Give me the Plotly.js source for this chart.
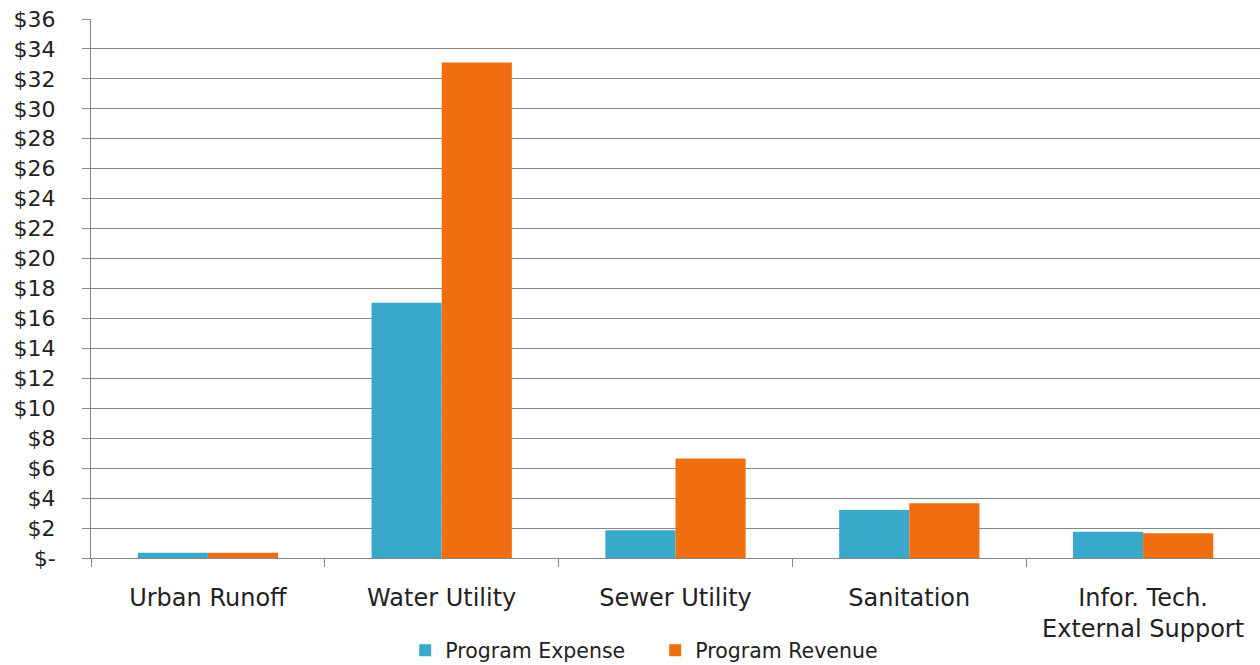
<!DOCTYPE html>
<html>
<head>
<meta charset="utf-8">
<script src="https://cdn.plot.ly/plotly-3.0.1.min.js"></script>
<style>html,body{margin:0;padding:0;background:#fff;}#chart{width:1260px;height:665px;}</style>
</head>
<body>
<div id="chart"></div>
<script>
const categories = ["Urban Runoff", "Water Utility", "Sewer Utility", "Sanitation", "Infor. Tech.<br>External Support"];
const programExpense = [0.35, 17.05, 1.85, 3.2, 1.75];
const programRevenue = [0.35, 33.1, 6.65, 3.65, 1.65];
const yTickVals = [0, 2, 4, 6, 8, 10, 12, 14, 16, 18, 20, 22, 24, 26, 28, 30, 32, 34, 36];
const yTickText = ["$-", "$2", "$4", "$6", "$8", "$10", "$12", "$14", "$16", "$18", "$20", "$22", "$24", "$26", "$28", "$30", "$32", "$34", "$36"];

const font = "DejaVu Sans, sans-serif";
const data = [
  {type: "bar", name: "Program Expense", x: categories, y: programExpense,
   marker: {color: "#38A9CA"}, hoverinfo: "y"},
  {type: "bar", name: "Program Revenue", x: categories, y: programRevenue,
   marker: {color: "#EE6E10"}, hoverinfo: "y"}
];
const layout = {
  width: 1260, height: 665,
  margin: {l: 91, r: 0, t: 19, b: 107, autoexpand: false},
  paper_bgcolor: "#fff", plot_bgcolor: "#fff",
  barmode: "group", bargap: 0.4, bargroupgap: 0,
  font: {family: font, color: "#222", size: 20},
  showlegend: true,
  legend: {orientation: "h", x: 0.52, xanchor: "center", xref: "container",
           y: 0.022, yanchor: "middle", yref: "container",
           font: {size: 20.5, family: font, color: "#222"}, itemwidth: 30, tracegroupgap: 0,
           entrywidth: 205, entrywidthmode: "pixels"},
  xaxis: {
    tickson: "boundaries", ticks: "outside", ticklen: 8, tickcolor: "#888",
    showline: true, linecolor: "#888", linewidth: 1,
    showgrid: false, tickfont: {size: 24, family: font, color: "#222"}, automargin: false,
    ticklabelstandoff: 18
  },
  yaxis: {
    range: [0, 36], tickvals: yTickVals, ticktext: yTickText,
    ticks: "outside", ticklen: 8, tickcolor: "#888",
    showline: true, linecolor: "#888", linewidth: 1,
    showgrid: true, gridcolor: "#888", gridwidth: 1,
    zeroline: false, tickfont: {size: 22, family: font, color: "#222"}, automargin: false,
    ticklabelstandoff: 22
  }
};
Plotly.newPlot("chart", data, layout, {displayModeBar: false, staticPlot: true});
</script>
</body>
</html>
